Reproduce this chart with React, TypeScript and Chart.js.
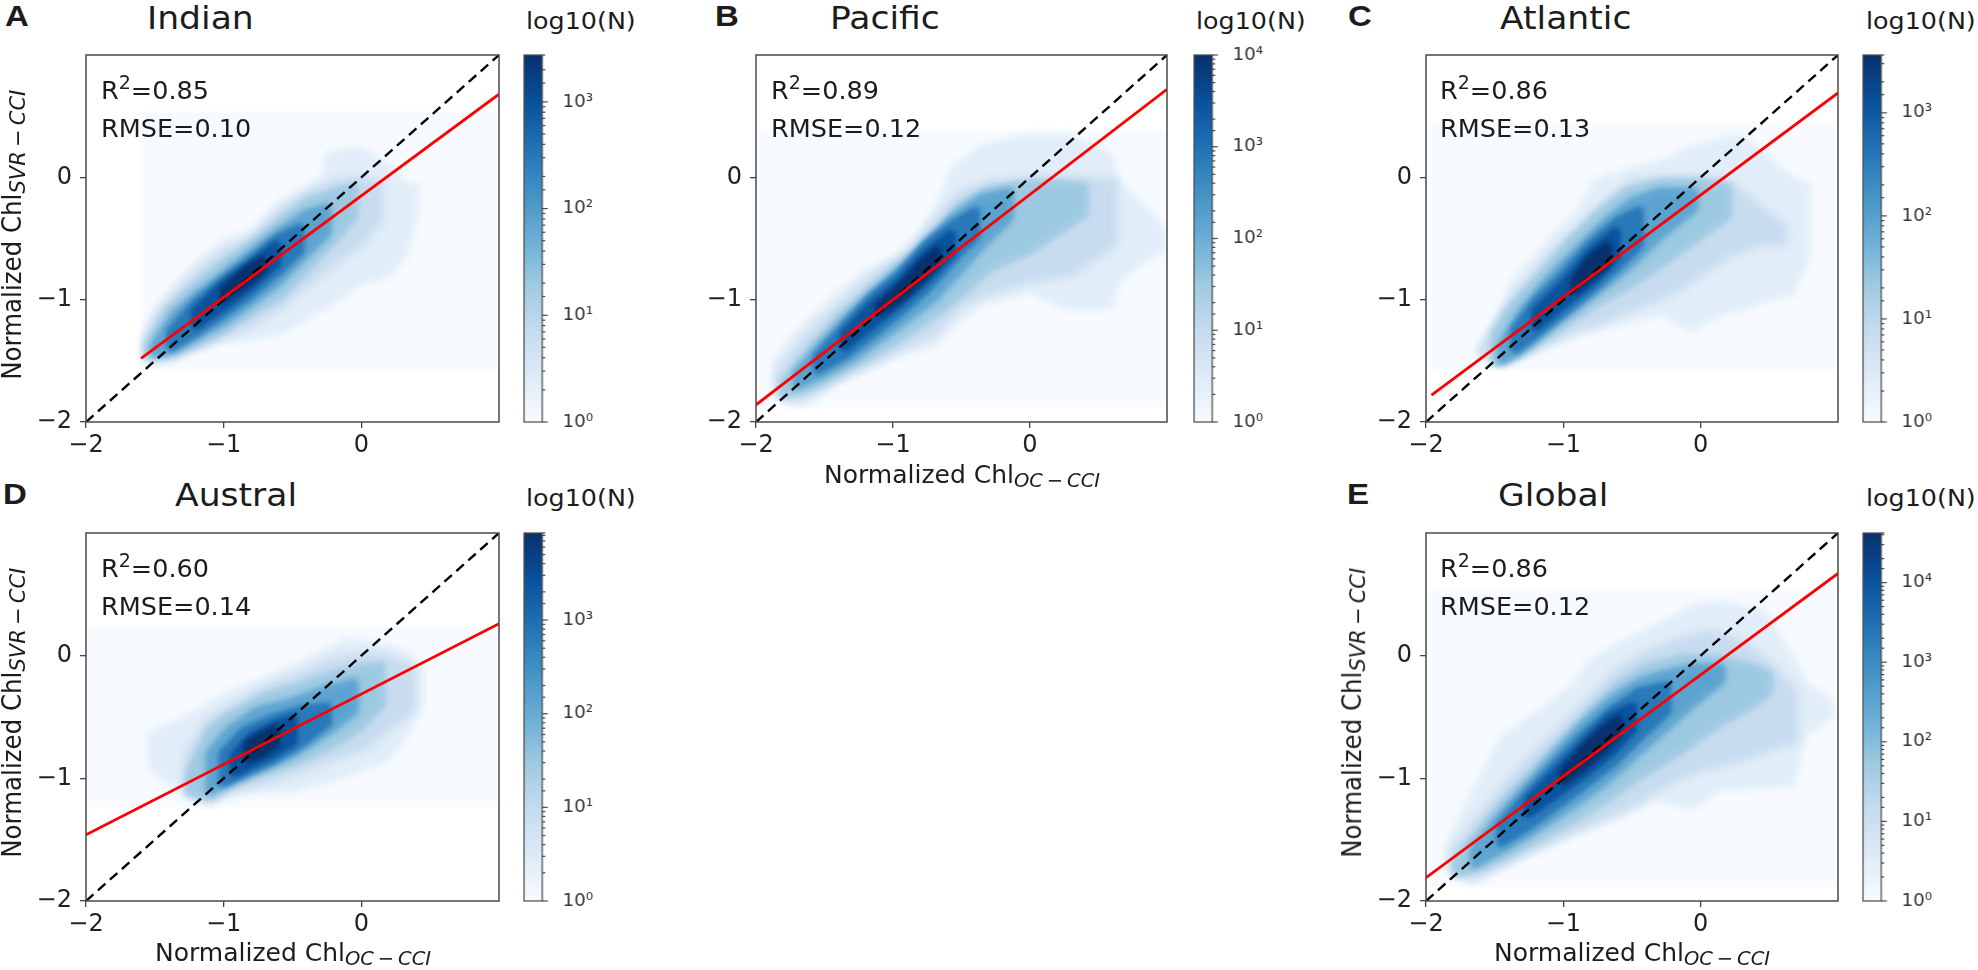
import React, { useEffect, useRef } from "react";
import { Chart, registerables } from "chart.js";

// Runs before the library's filler, so each density contour can carry its own softness.
const contourSoftness = {
  id: "contourSoftness",
  beforeDatasetDraw(c: any, args: any) {
    const b = c.data.datasets[args.index].soft;
    c.ctx.filter = b ? `blur(${b}px)` : "none";
  },
  afterDatasetDraw(c: any) {
    c.ctx.filter = "none";
  },
};
Chart.register(contourSoftness);
Chart.register(...registerables);

const FONT = '"DejaVu Sans", sans-serif';

// axis ticks
const axisTicks = [-2, -1, 0];
const axisMin = -2;
const axisMax = 1;
const oneToOneLine = [
  { x: -2, y: -2 },
  { x: 1, y: 1 },
];

// colour map (matplotlib Blues) and the share of it each density contour uses
const blues = ["#f7fbff", "#deebf7", "#c6dbef", "#9ecae1", "#6baed6", "#4292c6", "#2171b5", "#08519c", "#08306b"];
const contourShades = [0.11, 0.24, 0.38, 0.55, 0.72, 0.87, 1.0];
const contourSpread = [0, 2, 6, 8, 10, 10, 8];
const contourSoft = [3.5, 3.5, 3, 3, 2.5, 2.5, 2.5];

// Each contour: [x, lower y, upper y].
const indianExtent = [[-1.6, -1.57, 0.54], [1.02, -1.57, 0.54]];
const indianContours = [
  [[-1.6, -1.5, -1.3], [-1.5, -1.54, -1.05], [-1.35, -1.5, -0.85], [-1.2, -1.42, -0.68], [-1, -1.36, -0.5], [-0.8, -1.33, -0.42], [-0.6, -1.29, -0.2], [-0.45, -1.2, -0.09], [-0.3, -1.1, 0.0], [-0.25, -1.08, 0.22], [0, -0.88, 0.25], [0.2, -0.82, 0.12], [0.33, -0.65, -0.04], [0.42, -0.3, -0.05]],
  [[-1.58, -1.47, -1.33], [-1.5, -1.5, -1.15], [-1.35, -1.47, -0.95], [-1.2, -1.4, -0.78], [-1, -1.3, -0.6], [-0.8, -1.22, -0.5], [-0.6, -1.08, -0.27], [-0.4, -0.9, -0.13], [-0.2, -0.72, -0.03], [0, -0.55, 0], [0.15, -0.35, -0.05]],
  [[-1.55, -1.45, -1.38], [-1.4, -1.44, -1.08], [-1.2, -1.36, -0.88], [-1, -1.25, -0.7], [-0.8, -1.1, -0.55], [-0.6, -0.98, -0.37], [-0.4, -0.75, -0.2], [-0.2, -0.52, -0.12], [-0.05, -0.32, -0.08]],
  [[-1.5, -1.44, -1.37], [-1.35, -1.4, -1.12], [-1.2, -1.3, -0.97], [-1, -1.18, -0.8], [-0.8, -1.02, -0.62], [-0.6, -0.85, -0.45], [-0.4, -0.62, -0.3], [-0.25, -0.46, -0.25]],
  [[-1.38, -1.38, -1.26], [-1.2, -1.26, -1.03], [-1, -1.11, -0.85], [-0.8, -0.95, -0.68], [-0.6, -0.76, -0.5], [-0.45, -0.6, -0.42]],
  [[-1.2, -1.2, -1.1], [-1, -1.05, -0.88], [-0.8, -0.88, -0.72], [-0.62, -0.7, -0.56]],
  [[-1.0, -0.99, -0.93], [-0.85, -0.88, -0.77], [-0.72, -0.76, -0.68]],
];
const indianFit = [{ x: -1.6, y: -1.48 }, { x: 1, y: 0.68 }];

const pacificExtent = [[-1.98, -1.88, 0.39], [1.02, -1.88, 0.39]];
const pacificContours = [
  [[-1.88, -1.75, -1.5], [-1.75, -1.88, -1.3], [-1.6, -1.86, -1.13], [-1.4, -1.68, -0.92], [-1.2, -1.6, -0.75], [-1, -1.49, -0.65], [-0.8, -1.42, -0.42], [-0.67, -1.38, -0.18], [-0.58, -1.25, 0.08], [-0.34, -1.05, 0.28], [0, -0.95, 0.35], [0.25, -1.08, 0.36], [0.6, -1.08, 0.2], [0.66, -0.85, -0.02], [0.9, -0.65, -0.29], [1.0, -0.6, -0.45]],
  [[-1.85, -1.78, -1.6], [-1.7, -1.82, -1.38], [-1.5, -1.72, -1.15], [-1.3, -1.6, -0.95], [-1.1, -1.5, -0.76], [-0.9, -1.38, -0.62], [-0.7, -1.28, -0.35], [-0.5, -1.05, -0.12], [-0.3, -0.95, -0.03], [0, -0.85, -0.01], [0.3, -0.8, 0], [0.63, -0.55, -0.02]],
  [[-1.8, -1.78, -1.68], [-1.6, -1.72, -1.4], [-1.4, -1.6, -1.15], [-1.2, -1.48, -0.95], [-1, -1.35, -0.76], [-0.8, -1.2, -0.6], [-0.65, -1.08, -0.42], [-0.5, -0.95, -0.22], [-0.3, -0.75, -0.1], [0, -0.6, -0.05], [0.2, -0.45, -0.05], [0.4, -0.3, -0.07]],
  [[-1.7, -1.7, -1.6], [-1.5, -1.6, -1.35], [-1.3, -1.48, -1.12], [-1.1, -1.32, -0.92], [-0.9, -1.15, -0.72], [-0.7, -0.98, -0.48], [-0.55, -0.8, -0.32], [-0.35, -0.55, -0.17], [-0.15, -0.33, -0.12]],
  [[-1.55, -1.57, -1.47], [-1.35, -1.45, -1.22], [-1.15, -1.28, -0.98], [-0.95, -1.1, -0.8], [-0.75, -0.9, -0.55], [-0.55, -0.65, -0.38], [-0.4, -0.48, -0.28]],
  [[-1.35, -1.38, -1.28], [-1.15, -1.2, -1.05], [-0.95, -1.02, -0.86], [-0.75, -0.82, -0.62], [-0.58, -0.62, -0.47]],
  [[-1.1, -1.1, -1.05], [-0.95, -0.99, -0.9], [-0.8, -0.84, -0.72], [-0.68, -0.7, -0.6]],
];
const pacificFit = [{ x: -2, y: -1.86 }, { x: 1, y: 0.72 }];

const atlanticExtent = [[-1.97, -1.57, 0.46], [1.02, -1.57, 0.46]];
const atlanticContours = [
  [[-1.64, -1.45, -1.38], [-1.5, -1.53, -1.18], [-1.4, -1.55, -0.86], [-1.24, -1.46, -0.67], [-1.06, -1.38, -0.43], [-0.88, -1.3, -0.23], [-0.79, -1.27, -0.02], [-0.54, -1.2, 0.07], [-0.27, -1.13, 0.15], [-0.09, -1.27, 0.25], [0.16, -1.13, 0.33], [0.28, -1.1, 0.36], [0.53, -1.0, 0.15], [0.68, -0.97, 0], [0.8, -0.64, -0.04]],
  [[-1.6, -1.45, -1.4], [-1.45, -1.52, -1.1], [-1.3, -1.45, -0.9], [-1.1, -1.35, -0.62], [-0.9, -1.25, -0.42], [-0.7, -1.18, -0.2], [-0.5, -1.08, -0.03], [-0.2, -0.95, 0.0], [0, -0.8, 0], [0.2, -0.65, -0.02], [0.45, -0.55, -0.25], [0.62, -0.55, -0.4]],
  [[-1.5, -1.52, -1.28], [-1.35, -1.46, -1.02], [-1.15, -1.32, -0.78], [-0.95, -1.17, -0.52], [-0.75, -1.02, -0.3], [-0.55, -0.9, -0.12], [-0.3, -0.72, -0.04], [0, -0.48, -0.04], [0.2, -0.32, -0.08]],
  [[-1.45, -1.5, -1.38], [-1.3, -1.4, -1.1], [-1.1, -1.22, -0.83], [-0.9, -1.05, -0.6], [-0.7, -0.88, -0.38], [-0.5, -0.7, -0.2], [-0.3, -0.48, -0.12], [-0.05, -0.25, -0.12]],
  [[-1.35, -1.4, -1.25], [-1.2, -1.28, -1.02], [-1, -1.1, -0.8], [-0.8, -0.92, -0.55], [-0.6, -0.72, -0.36], [-0.45, -0.55, -0.28]],
  [[-1.2, -1.22, -1.1], [-1, -1.03, -0.88], [-0.8, -0.86, -0.62], [-0.62, -0.65, -0.45]],
  [[-0.92, -0.92, -0.85], [-0.8, -0.82, -0.66], [-0.68, -0.7, -0.56]],
];
const atlanticFit = [{ x: -1.96, y: -1.78 }, { x: 1, y: 0.69 }];

const australExtent = [[-2, -1.24, 0.24], [1.02, -1.24, 0.24]];
const australContours = [
  [[-1.55, -0.92, -0.62], [-1.3, -1.13, -0.5], [-1.11, -1.24, -0.38], [-0.96, -1.14, -0.28], [-0.7, -1.12, -0.17], [-0.46, -1.11, -0.05], [-0.1, -0.99, 0.15], [0.2, -0.86, 0.09], [0.34, -0.66, 0.04], [0.46, -0.4, -0.09]],
  [[-1.28, -1.12, -0.8], [-1.1, -1.18, -0.5], [-0.9, -1.1, -0.38], [-0.7, -1.04, -0.25], [-0.45, -0.95, -0.15], [-0.2, -0.85, -0.02], [0.05, -0.75, 0.02], [0.2, -0.6, 0], [0.38, -0.45, -0.1]],
  [[-1.25, -1.12, -0.95], [-1.1, -1.15, -0.6], [-0.95, -1.05, -0.48], [-0.7, -0.95, -0.33], [-0.45, -0.85, -0.25], [-0.2, -0.72, -0.15], [0, -0.58, -0.1], [0.15, -0.4, -0.08]],
  [[-1.1, -1.1, -0.8], [-0.95, -1.02, -0.6], [-0.75, -0.92, -0.45], [-0.5, -0.8, -0.38], [-0.25, -0.62, -0.28], [-0.05, -0.45, -0.22]],
  [[-1, -1.03, -0.8], [-0.85, -0.95, -0.62], [-0.65, -0.85, -0.52], [-0.45, -0.72, -0.45], [-0.25, -0.55, -0.42]],
  [[-0.92, -0.95, -0.82], [-0.8, -0.88, -0.67], [-0.65, -0.8, -0.58], [-0.5, -0.7, -0.52]],
  [[-0.82, -0.84, -0.72], [-0.72, -0.8, -0.65], [-0.62, -0.72, -0.6]],
];
const australFit = [{ x: -2, y: -1.46 }, { x: 1, y: 0.26 }];

const globalExtent = [[-1.98, -1.89, 0.53], [1.02, -1.89, 0.53]];
const globalContours = [
  [[-1.86, -1.7, -1.54], [-1.67, -1.86, -1.1], [-1.46, -1.75, -0.66], [-1.12, -1.58, -0.39], [-0.94, -1.48, -0.23], [-0.82, -1.43, -0.04], [-0.57, -1.32, 0.13], [-0.33, -1.18, 0.25], [-0.06, -1.26, 0.42], [0.16, -1.1, 0.45], [0.47, -1.08, 0.37], [0.68, -1.07, -0.01], [0.77, -0.66, -0.2], [0.97, -0.5, -0.38]],
  [[-1.82, -1.78, -1.6], [-1.65, -1.82, -1.35], [-1.45, -1.72, -1.08], [-1.25, -1.6, -0.82], [-1.05, -1.5, -0.62], [-0.85, -1.4, -0.38], [-0.65, -1.3, -0.15], [-0.45, -1.2, 0.0], [-0.2, -1.02, 0.12], [0.05, -0.92, 0.2], [0.3, -0.85, 0.12], [0.55, -0.75, -0.1], [0.7, -0.7, -0.3]],
  [[-1.78, -1.78, -1.68], [-1.6, -1.72, -1.42], [-1.4, -1.62, -1.15], [-1.2, -1.5, -0.92], [-1, -1.38, -0.68], [-0.8, -1.25, -0.45], [-0.6, -1.1, -0.24], [-0.4, -0.95, -0.1], [-0.15, -0.78, -0.02], [0.1, -0.58, -0.02], [0.35, -0.42, -0.08], [0.5, -0.3, -0.15]],
  [[-1.65, -1.7, -1.58], [-1.45, -1.58, -1.3], [-1.25, -1.45, -1.05], [-1.05, -1.3, -0.8], [-0.85, -1.15, -0.56], [-0.65, -0.98, -0.36], [-0.45, -0.78, -0.22], [-0.25, -0.58, -0.15], [-0.05, -0.38, -0.1], [0.15, -0.2, -0.1]],
  [[-1.45, -1.52, -1.38], [-1.25, -1.38, -1.12], [-1.05, -1.22, -0.88], [-0.85, -1.05, -0.65], [-0.65, -0.88, -0.45], [-0.45, -0.66, -0.3], [-0.25, -0.45, -0.25]],
  [[-1.25, -1.28, -1.18], [-1.05, -1.12, -0.95], [-0.85, -0.96, -0.72], [-0.65, -0.78, -0.5], [-0.5, -0.6, -0.42]],
  [[-1, -1.02, -0.95], [-0.85, -0.9, -0.76], [-0.7, -0.76, -0.6], [-0.6, -0.63, -0.52]],
];
const globalFit = [{ x: -2, y: -1.81 }, { x: 1, y: 0.67 }];

// colour bar upper limits
const indianMaxN = 2750;
const pacificMaxN = 10000;
const atlanticMaxN = 3640;
const australMaxN = 8500;
const globalMaxN = 42000;

function shade(t: number): string {
  const p = t * (blues.length - 1);
  const i = Math.min(Math.floor(p), blues.length - 2);
  const f = p - i;
  const rgb = (h: string) => [1, 3, 5].map((k) => parseInt(h.slice(k, k + 2), 16));
  const a = rgb(blues[i]);
  const b = rgb(blues[i + 1]);
  return `rgb(${a.map((v, k) => Math.round(v + (b[k] - v) * f)).join(",")})`;
}

function outline(band: number[][]) {
  const low = band.map(([x, l]) => ({ x, y: l }));
  const high = [...band].reverse().map(([x, , h]) => ({ x, y: h }));
  return [...low, ...high, low[0]];
}

const AXIS_W = 80;
const AXIS_H = 44;
const PAD = 12;

type PanelProps = {
  left: number; top: number; width: number; height: number;
  extent: number[][]; contours: number[][][]; fit: { x: number; y: number }[];
};

function Panel({ left, top, width, height, extent, contours, fit }: PanelProps) {
  const ref = useRef<HTMLCanvasElement>(null);
  useEffect(() => {
    const heat = (band: number[][], t: number, order: number, spread: number, soft: number) => ({
      type: "scatter" as const,
      soft,
      data: outline(band),
      showLine: true,
      fill: "shape",
      backgroundColor: shade(t),
      borderColor: shade(t),
      borderWidth: spread,
      borderJoinStyle: "round",
      pointRadius: 0,
      tension: 0,
      order,
    });
    const n = contours.length;
    const axis = (fit: (s: any) => void, pad: number) => ({
      type: "linear" as const,
      min: axisMin,
      max: axisMax,
      afterBuildTicks: (s: any) => { s.ticks = axisTicks.map((value) => ({ value })); },
      afterFit: fit,
      ticks: {
        font: { family: FONT, size: 24 },
        color: "#222",
        padding: pad,
        callback: (v: any) => String(v).replace("-", "\u2212"),
      },
      grid: { drawOnChartArea: false, drawTicks: true, tickLength: 6, color: "#444", lineWidth: 1.3 },
      border: { display: false },
    });
    const chart = new Chart(ref.current!, {
      type: "scatter",
      data: {
        datasets: [
          { data: fit, showLine: true, borderColor: "#ff0000", borderWidth: 2.8, pointRadius: 0, fill: false, order: 0 },
          { data: oneToOneLine, showLine: true, borderColor: "#000", borderWidth: 2.4, borderDash: [10, 6], pointRadius: 0, fill: false, order: 1 },
          ...contours.map((b, i) => heat(b, contourShades[i], n + 2 - i, contourSpread[i], contourSoft[i])),
          heat(extent, 0, n + 3, 0, 1.5),
        ] as any,
      },
      options: {
        animation: false,
        responsive: false,
        layout: { padding: { top: PAD, right: 2, left: 0, bottom: 0 } },
        plugins: { legend: { display: false }, tooltip: { enabled: false } },
        scales: {
          x: axis((s) => { s.height = AXIS_H; s.paddingLeft = 0; s.paddingRight = 0; }, 3),
          y: axis((s) => { s.width = AXIS_W; s.paddingTop = 0; s.paddingBottom = 0; }, 8),
        },
      },
      plugins: [
        {
          id: "frame",
          afterDatasetsDraw(c: any) {
            const { ctx, chartArea: a } = c;
            ctx.save();
            ctx.strokeStyle = "#4a4a4a";
            ctx.lineWidth = 1.5;
            ctx.strokeRect(a.left, a.top, a.right - a.left, a.bottom - a.top);
            ctx.restore();
          },
        },
      ],
    } as any);
    return () => chart.destroy();
  }, []);
  return (
    <canvas
      ref={ref}
      width={width + AXIS_W + 2}
      height={height + PAD + AXIS_H}
      style={{ position: "absolute", left: left - AXIS_W, top: top - PAD, width: width + AXIS_W + 2, height: height + PAD + AXIS_H }}
    />
  );
}

const CB_W = 18.5;
const CB_AXIS = 60;
const SUP = "\u2070\u00b9\u00b2\u00b3\u2074";

function ColorBar({ left, top, height, maxN }: { left: number; top: number; height: number; maxN: number }) {
  const ref = useRef<HTMLCanvasElement>(null);
  useEffect(() => {
    const chart = new Chart(ref.current!, {
      type: "bar",
      data: {
        labels: ["N"],
        datasets: [
          {
            data: [[1, maxN]],
            barPercentage: 1,
            categoryPercentage: 1,
            backgroundColor: (c: any) => {
              const a = c.chart.chartArea;
              if (!a) return blues[0];
              const g = c.chart.ctx.createLinearGradient(0, a.bottom, 0, a.top);
              blues.forEach((col, i) => g.addColorStop(i / (blues.length - 1), col));
              return g;
            },
          },
        ] as any,
      },
      options: {
        animation: false,
        responsive: false,
        layout: { padding: { top: PAD, bottom: PAD, left: 1, right: 0 } },
        plugins: { legend: { display: false }, tooltip: { enabled: false } },
        scales: {
          x: { display: false },
          y: {
            type: "logarithmic",
            position: "right",
            min: 1,
            max: maxN,
            afterFit: (s: any) => { s.width = CB_AXIS; s.paddingTop = 0; s.paddingBottom = 0; },
            grid: { display: false },
            border: { display: false },
            ticks: {
              autoSkip: false,
              padding: 12,
              color: "#333",
              font: { family: FONT, size: 18 },
              callback: (v: any) => {
                const e = Math.log10(v);
                return Math.abs(e - Math.round(e)) < 1e-6 ? "10" + SUP[Math.round(e)] : "";
              },
            },
          },
        },
      },
      plugins: [
        {
          id: "barFrame",
          afterDatasetsDraw(c: any) {
            const { ctx, chartArea: a, scales } = c;
            ctx.save();
            ctx.strokeStyle = "#4a4a4a";
            ctx.lineWidth = 1.2;
            ctx.strokeRect(a.left, a.top, a.right - a.left, a.bottom - a.top);
            scales.y.ticks.forEach((t: any) => {
              const e = Math.log10(t.value);
              const major = Math.abs(e - Math.round(e)) < 1e-6;
              const y = scales.y.getPixelForValue(t.value);
              ctx.beginPath();
              ctx.moveTo(a.right, y);
              ctx.lineTo(a.right + (major ? 5.5 : 3), y);
              ctx.stroke();
            });
            ctx.restore();
          },
        },
      ],
    } as any);
    return () => chart.destroy();
  }, []);
  return (
    <canvas
      ref={ref}
      width={CB_W + CB_AXIS + 1}
      height={height + 2 * PAD}
      style={{ position: "absolute", left: left - 1, top: top - PAD, width: CB_W + CB_AXIS + 1, height: height + 2 * PAD }}
    />
  );
}

type TextProps = {
  x: number; y: number; size: number; sx?: number; sy?: number; rot?: number;
  weight?: number; family?: string; children: React.ReactNode;
};

function T({ x, y, size, sx = 1, sy = 1, rot = 0, weight = 400, family = FONT, children }: TextProps) {
  const asc = 0.928 * size;
  return (
    <div
      style={{
        position: "absolute",
        left: x,
        top: y - asc,
        fontFamily: family,
        fontSize: size,
        fontWeight: weight,
        lineHeight: `${1.164 * size}px`,
        whiteSpace: "nowrap",
        color: "#1c1c1c",
        transformOrigin: `0 ${asc}px`,
        transform: `rotate(${rot}deg) scale(${sx},${sy})`,
      }}
    >
      {children}
    </div>
  );
}

const Sub = ({ size, drop, children }: { size: number; drop: number; children: React.ReactNode }) => (
  <span style={{ fontSize: size, fontStyle: "italic", position: "relative", top: drop, lineHeight: 0 }}>{children}</span>
);
const Sup2 = () => (
  <span style={{ fontSize: 19, position: "relative", top: -10, lineHeight: 0 }}>2</span>
);

const XLabel = ({ x, y }: { x: number; y: number }) => (
  <T x={x} y={y} size={25}>
    Normalized Chl<Sub size={19.5} drop={4}>OC{"\u2009\u2212\u2009"}CCI</Sub>
  </T>
);
const YLabel = ({ x, y }: { x: number; y: number }) => (
  <T x={x} y={y} size={24.5} sy={1.05} rot={-90}>
    Normalized Chl<Sub size={21} drop={4}>SVR{"\u2009\u2212\u2009"}CCI</Sub>
  </T>
);

const Annot = ({ x, y, r2, rmse }: { x: number; y: number; r2: string; rmse: string }) => (
  <>
    <T x={x} y={y} size={25.5}>R<Sup2 />={r2}</T>
    <T x={x} y={y + 38} size={25.5}>RMSE={rmse}</T>
  </>
);

const BOLD = '"Liberation Sans", Arial, sans-serif';
const Letter = ({ x, y, children }: { x: number; y: number; children: React.ReactNode }) => (
  <T x={x} y={y} size={30} sx={1.1} weight={700} family={BOLD}>{children}</T>
);

export default function App() {
  const top1 = 55, top2 = 533, h = 368;
  return (
    <div style={{ position: "absolute", left: 0, top: 0, width: 1978, height: 970, background: "#fff", overflow: "hidden", filter: "blur(0.5px)" }}>
      <Panel left={86} top={top1} width={413} height={h - 1} extent={indianExtent} contours={indianContours} fit={indianFit} />
      <Panel left={756} top={top1} width={411} height={h - 1} extent={pacificExtent} contours={pacificContours} fit={pacificFit} />
      <Panel left={1426} top={top1} width={412} height={h - 1} extent={atlanticExtent} contours={atlanticContours} fit={atlanticFit} />
      <Panel left={86} top={top2} width={413} height={h} extent={australExtent} contours={australContours} fit={australFit} />
      <Panel left={1426} top={top2} width={412} height={h} extent={globalExtent} contours={globalContours} fit={globalFit} />

      <ColorBar left={524} top={top1} height={h - 1} maxN={indianMaxN} />
      <ColorBar left={1194} top={top1} height={h - 1} maxN={pacificMaxN} />
      <ColorBar left={1863} top={top1} height={h - 1} maxN={atlanticMaxN} />
      <ColorBar left={524} top={top2} height={h} maxN={australMaxN} />
      <ColorBar left={1863} top={top2} height={h} maxN={globalMaxN} />

      <Letter x={5} y={27}>A</Letter>
      <Letter x={715} y={27}>B</Letter>
      <Letter x={1348} y={27}>C</Letter>
      <Letter x={3} y={505}>D</Letter>
      <Letter x={1347} y={505}>E</Letter>

      <T x={147} y={30} size={32} sx={1.08}>Indian</T>
      <T x={830} y={30} size={32} sx={1.08}>Pacific</T>
      <T x={1500} y={30} size={32} sx={1.08}>Atlantic</T>
      <T x={175} y={507} size={32} sx={1.08}>Austral</T>
      <T x={1498} y={507} size={32} sx={1.08}>Global</T>

      <T x={526} y={30} size={23.5} sx={1.08}>log10(N)</T>
      <T x={1196} y={30} size={23.5} sx={1.08}>log10(N)</T>
      <T x={1866} y={30} size={23.5} sx={1.08}>log10(N)</T>
      <T x={526} y={507} size={23.5} sx={1.08}>log10(N)</T>
      <T x={1866} y={507} size={23.5} sx={1.08}>log10(N)</T>

      <Annot x={101} y={100} r2="0.85" rmse="0.10" />
      <Annot x={771} y={100} r2="0.89" rmse="0.12" />
      <Annot x={1440} y={100} r2="0.86" rmse="0.13" />
      <Annot x={101} y={578} r2="0.60" rmse="0.14" />
      <Annot x={1440} y={578} r2="0.86" rmse="0.12" />

      <YLabel x={22} y={380} />
      <YLabel x={22} y={858} />
      <YLabel x={1362} y={858} />

      <XLabel x={824} y={483} />
      <XLabel x={155} y={961} />
      <XLabel x={1494} y={961} />
    </div>
  );
}
